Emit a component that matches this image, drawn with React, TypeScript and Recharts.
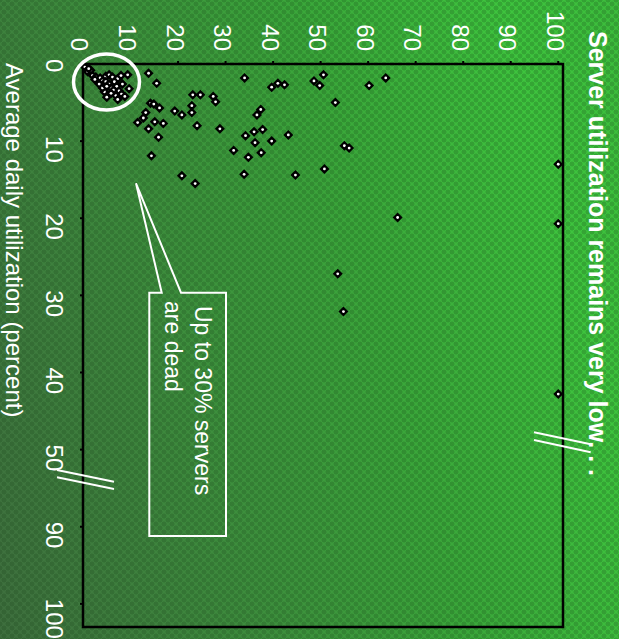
import { ScatterChart, Scatter, XAxis, YAxis, ReferenceArea } from 'recharts'

// Average daily utilization (percent) for each server
const avgDaily = [
    1.0, 0.8, 1.5, 1.7, 1.8, 2.2, 1.6, 1.4, 1.7, 1.9, 1.5, 1.4, 2.3, 2.6, 2.3, 2.9, 2.6, 3.1, 3.6, 3.4,
    3.5, 3.9, 3.2, 4.3, 4.1, 4.6, 4.2, 2.6, 3.1, 0.4, 0.6, 2.0, 2.9, 3.8,
    1.2, 2.5, 1.8, 3.0, 2.5, 2.7, 4.0, 4.0, 4.2, 4.9, 5.1, 5.2, 5.7, 6.1, 6.6, 5.4, 6.3, 6.3, 7.0, 7.6,
    7.5, 7.7, 8.4, 9.5, 8.0, 8.4, 5.9, 6.6, 9.3, 8.8, 8.5, 10.0, 10.2, 11.2, 11.5, 12.1, 11.9, 14.5, 15.5, 14.3,
    1.4, 2.2, 2.8, 2.8, 1.8, 5.0, 9.2, 10.6, 10.9, 13.6, 14.4, 19.9, 13.0, 20.7, 27.2, 32.1, 42.8
]

// Peak utilization (percent), same order
const peakUtil = [
    1.0, 1.6, 2.0, 2.7, 3.6, 4.1, 4.8, 5.5, 6.2, 7.3, 8.0, 9.4, 4.8, 5.5, 6.6, 7.1, 8.3, 5.9, 4.5, 6.4,
    7.6, 8.1, 9.7, 5.0, 6.9, 7.3, 8.8, 3.4, 4.1, 0.4, 1.2, 2.5, 5.0, 5.9,
    13.8, 15.5, 34.0, 39.7, 41.0, 42.4, 23.1, 24.7, 27.4, 27.9, 14.2, 14.9, 16.1, 19.3, 20.8, 22.9, 22.9, 13.2, 12.7, 11.5,
    15.1, 16.9, 13.8, 15.9, 24.0, 28.8, 37.4, 36.6, 34.2, 36.0, 37.8, 39.7, 36.2, 31.7, 37.5, 34.8, 14.4, 20.8, 23.6, 33.9,
    50.6, 48.6, 49.8, 60.2, 63.7, 53.1, 43.2, 55.0, 56.0, 50.8, 44.7, 66.2, 100, 100, 53.6, 54.8, 100
]

// x axis has a break between 50 and 90
const xTickLabels = [0, 10, 20, 30, 40, 50, 90, 100]
const yTicks = [0, 10, 20, 30, 40, 50, 60, 70, 80, 90, 100]

const BREAK_GAP = 30
const toBroken = (v: number) => (v >= 90 ? v - BREAK_GAP : v)
const fromBroken = (v: number) => (v > 50 ? v + BREAK_GAP : v)

const points = avgDaily.map((x, i) => ({ x: toBroken(x), y: peakUtil[i] }))

const FONT = '"Liberation Sans", Arial, sans-serif'

const Marker = (props: any) => {
    const { cx, cy } = props
    const r = 5
    return (
        <g>
            <polygon points={`${cx},${cy - r} ${cx + r},${cy} ${cx},${cy + r} ${cx - r},${cy}`} fill="#000" />
            <circle cx={cx} cy={cy} r={1.4} fill="#fff" />
        </g>
    )
}

const App = () => {
    return (
        <div style={{
            position: 'fixed', left: 0, top: 0, width: 619, height: 639, overflow: 'hidden',
            backgroundColor: '#3d9a3d',
            backgroundImage:
                'radial-gradient(circle, rgba(20,60,20,0.22) 2.2px, transparent 2.8px), ' +
                'radial-gradient(circle, rgba(20,60,20,0.22) 2.2px, transparent 2.8px), ' +
                'linear-gradient(75deg, #3e6e3e 0%, #3d8a3d 30%, #3aa83a 60%, #3ec43e 85%, #3cbc3c 100%)',
            backgroundSize: '8px 8px, 8px 8px, 100% 100%',
            backgroundPosition: '0 0, 4px 4px, 0 0'
        }}>
            <div style={{
                position: 'absolute', left: 0, top: 0, width: 639, height: 619,
                transformOrigin: '0 0', transform: 'translateX(619px) rotate(90deg)'
            }}>
                <ScatterChart width={639} height={619} margin={{ top: 56, right: 12, bottom: 0, left: 0 }}
                    style={{ fontFamily: FONT }}>
                    <XAxis type="number" dataKey="x" domain={[0, 73]} ticks={xTickLabels.map(toBroken)}
                        tickFormatter={(v) => String(fromBroken(v))} height={83} axisLine={false}
                        tickSize={3} tickMargin={17} tickLine={{ stroke: '#000', strokeWidth: 2 }}
                        tick={{ fill: '#fff', fontSize: 24, textAnchor: 'start', dx: -5 }} />
                    <YAxis type="number" dataKey="y" domain={[0, 101]} ticks={yTicks} width={64} axisLine={false}
                        tickSize={3} tickMargin={10} tickLine={{ stroke: '#000', strokeWidth: 2 }}
                        tick={{ fill: '#fff', fontSize: 24, dy: 3 }} />
                    <ReferenceArea x1={0} x2={73} y1={0} y2={101} fill="none" stroke="#000" strokeWidth={2.5} />
                    <Scatter data={points} shape={Marker} isAnimationActive={false} />
                </ScatterChart>
                <svg width={639} height={619} style={{ position: 'absolute', left: 0, top: 0, pointerEvents: 'none', fontFamily: FONT }}>
                    <text x={31} y={30} fill="#fff" fontSize={25} fontWeight="bold">Server utilization remains very low. . .</text>
                    <text x={63} y={613} fill="#fff" fontSize={24}>Average daily utilization (percent)</text>
                    <ellipse cx={82} cy={512.5} rx={28} ry={33} fill="none" stroke="#fff" strokeWidth={3.5} />
                    <path d="M292.7,393 L536,393 L536,469.7 L292.7,469.7 L292.7,457.3 L183.3,483 L292.7,438 Z"
                        fill="none" stroke="#fff" strokeWidth={2} />
                    <text x={306} y={424} fill="#fff" fontSize={23}>Up to 30% servers</text>
                    <text x={301} y={454} fill="#fff" fontSize={23}>are dead</text>
                    <g stroke="#fff" strokeWidth={2}>
                        <line x1={470} y1={562} x2={481.7} y2={505} />
                        <line x1={477.3} y1={562} x2={489} y2={505} />
                        <line x1={432.3} y1={85} x2={444.3} y2={28.3} />
                        <line x1={440} y1={85} x2={452.3} y2={28.3} />
                    </g>
                </svg>
            </div>
        </div>
    )
}

export default App
